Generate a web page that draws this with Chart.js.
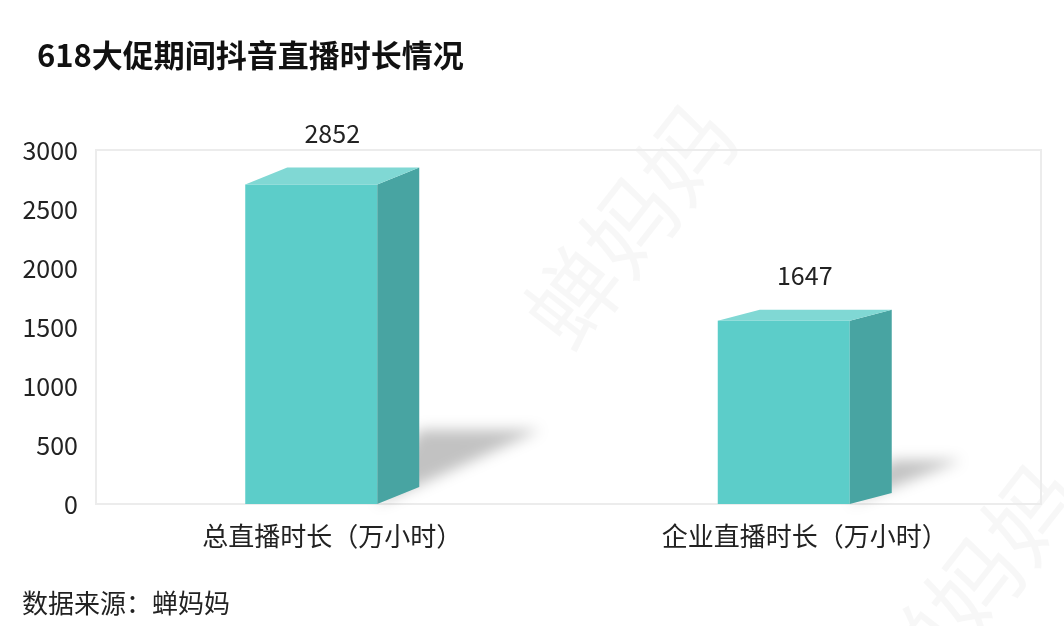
<!DOCTYPE html>
<html>
<head>
<meta charset="utf-8">
<script src="https://cdn.jsdelivr.net/npm/chart.js@4/dist/chart.umd.min.js"></script>
<style>
  html, body { margin: 0; padding: 0; background: #fff; }
  #wrap { position: relative; width: 1064px; height: 626px; overflow: hidden; font-family: "Noto Sans CJK SC", "Noto Sans", sans-serif; }
  #title { position: absolute; left: 37px; top: 31px; font-size: 31px; font-weight: bold; color: #111; white-space: nowrap; }
  #source { position: absolute; left: 22px; top: 583px; font-size: 26px; color: #222; white-space: nowrap; }
  canvas { position: absolute; left: 0; top: 0; }
</style>
</head>
<body>
<div id="wrap">
  <canvas id="c" width="1064" height="626"></canvas>
  <div id="title">618大促期间抖音直播时长情况</div>
  <div id="source">数据来源：蝉妈妈</div>
</div>
<script>
// data
const categories = ['总直播时长（万小时）', '企业直播时长（万小时）'];
const hours = [2852, 1647];
const yTicks = [0, 500, 1000, 1500, 2000, 2500, 3000];

const FONT = '"Noto Sans CJK SC", "Noto Sans", sans-serif';
const FRONT = '#5ccdc9', TOP = '#80d8d4', SIDE = '#48a4a2';
const DEPTH_X = 42;

// watermark + plot border
const backdrop = {
    id: 'backdrop',
    beforeDraw(chart) {
        const ctx = chart.ctx;
        ctx.save();
        ctx.fillStyle = 'rgba(0,0,0,0.03)';
        ctx.font = '92px ' + FONT;
        ctx.textAlign = 'center';
        ctx.textBaseline = 'middle';
        [[630, 225], [975, 585]].forEach(([x, y]) => {
            ctx.save();
            ctx.translate(x, y);
            ctx.rotate(-52 * Math.PI / 180);
            ctx.fillText('蝉妈妈', 0, 0);
            ctx.restore();
        });
        const a = chart.chartArea;
        ctx.strokeStyle = '#ececec';
        ctx.lineWidth = 2;
        ctx.strokeRect(a.left, a.top, a.right - a.left, a.bottom - a.top);
        ctx.restore();
    }
};

function depthY(x) {
    // slight perspective: the further right, the flatter
    return 17 - (x - 332) * 0.0127;
}

const boxes = {
    id: 'boxes',
    afterDatasetsDraw(chart) {
        const ctx = chart.ctx;
        const meta = chart.getDatasetMeta(0);
        meta.data.forEach((el, i) => {
            const dy = depthY(el.x);
            const fl = el.x - el.width / 2;
            const fr = fl + el.width - DEPTH_X;
            const base = el.base;
            const yb = el.y;          // back top edge = value
            const yf = el.y + dy;     // front top edge
            const H = base - el.y;

            // floor shadow
            ctx.save();
            ctx.filter = 'blur(7px)';
            ctx.fillStyle = 'rgba(0,0,0,0.24)';
            ctx.beginPath();
            ctx.moveTo(fr, base);
            ctx.lineTo(fr + DEPTH_X, base - dy - H * 0.17);
            ctx.lineTo(fr + DEPTH_X + H * 0.36, base - dy - H * 0.17);
            ctx.closePath();
            ctx.fill();
            ctx.restore();

            // front
            ctx.fillStyle = FRONT;
            ctx.fillRect(fl, yf, fr - fl, base - yf);
            // side
            ctx.fillStyle = SIDE;
            ctx.beginPath();
            ctx.moveTo(fr, yf);
            ctx.lineTo(fr + DEPTH_X, yb);
            ctx.lineTo(fr + DEPTH_X, base - dy);
            ctx.lineTo(fr, base);
            ctx.closePath();
            ctx.fill();
            // top
            ctx.fillStyle = TOP;
            ctx.beginPath();
            ctx.moveTo(fl, yf);
            ctx.lineTo(fl + DEPTH_X, yb);
            ctx.lineTo(fr + DEPTH_X, yb);
            ctx.lineTo(fr, yf);
            ctx.closePath();
            ctx.fill();

            // value label
            ctx.fillStyle = '#222';
            ctx.font = '25px ' + FONT;
            ctx.textAlign = 'center';
            ctx.textBaseline = 'middle';
            ctx.fillText(String(hours[i]), el.x, el.y - 34);
        });
    }
};

new Chart(document.getElementById('c').getContext('2d'), {
    type: 'bar',
    data: {
        labels: categories,
        datasets: [{
            data: hours,
            backgroundColor: 'rgba(0,0,0,0)',
            barThickness: 174,
        }],
    },
    options: {
        responsive: false,
        animation: false,
        layout: { padding: { top: 150, right: 23, bottom: 0, left: 0 } },
        plugins: {
            legend: { display: false },
            tooltip: { enabled: false },
        },
        scales: {
            x: {
                grid: { display: false, drawTicks: false },
                border: { display: false },
                ticks: { color: '#222', font: { family: FONT, size: 26 }, padding: 17 },
                afterFit(scale) { scale.height = 122; },
            },
            y: {
                min: 0,
                max: 3000,
                afterBuildTicks(scale) { scale.ticks = yTicks.map(v => ({ value: v })); },
                grid: { display: false, drawTicks: false },
                border: { display: false },
                ticks: {
                    color: '#222',
                    font: { family: FONT, size: 25 },
                    padding: 18,
                    callback: v => String(v),
                },
                afterFit(scale) { scale.width = 96; },
            },
        },
    },
    plugins: [backdrop, boxes],
});
</script>
</body>
</html>
